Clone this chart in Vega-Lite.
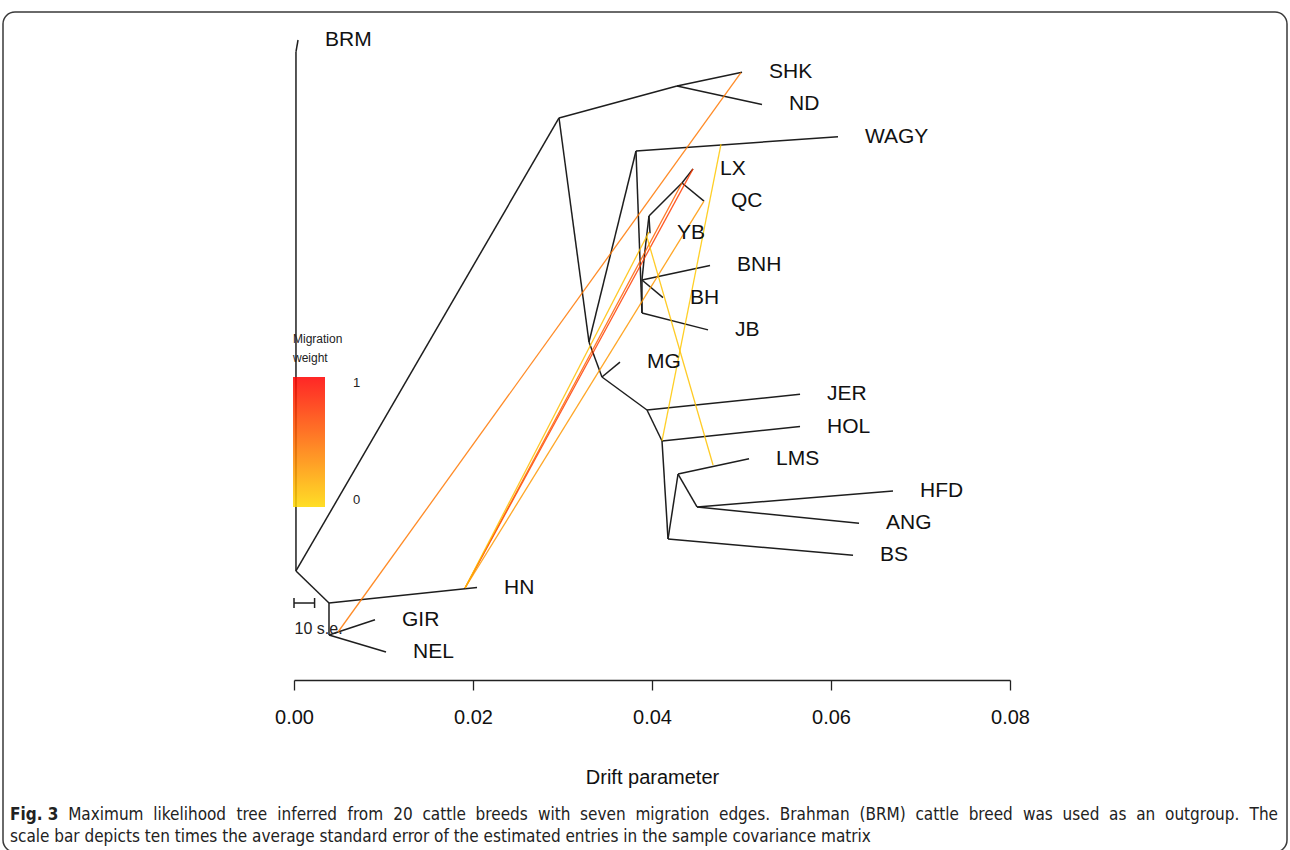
{
  "$schema": "https://vega.github.io/schema/vega-lite/v6.json",
  "width": 1284,
  "height": 840,
  "autosize": {"type": "none"},
  "padding": {"left": 3, "top": 12, "right": 3, "bottom": -2},
  "background": "white",
  "config": {
    "view": {"stroke": "#3a3a3a", "strokeWidth": 1.5, "cornerRadius": 12},
    "font": "Liberation Sans",
    "text": {"font": "DejaVu Sans Condensed, Liberation Sans", "fontSize": 17, "color": "#222", "align": "left", "baseline": "middle"}
  },
  "datasets": {
    "leaves": [
      {"name": "BRM", "x": 0.00045, "y": 20},
      {"name": "SHK", "x": 0.05006, "y": 19},
      {"name": "ND", "x": 0.05229, "y": 18},
      {"name": "WAGY", "x": 0.06078, "y": 17},
      {"name": "LX", "x": 0.04458, "y": 16},
      {"name": "QC", "x": 0.04581, "y": 15},
      {"name": "YB", "x": 0.03978, "y": 14},
      {"name": "BNH", "x": 0.04648, "y": 13},
      {"name": "BH", "x": 0.04123, "y": 12},
      {"name": "JB", "x": 0.04626, "y": 11},
      {"name": "MG", "x": 0.03642, "y": 10},
      {"name": "JER", "x": 0.05654, "y": 9},
      {"name": "HOL", "x": 0.05654, "y": 8},
      {"name": "LMS", "x": 0.05084, "y": 7},
      {"name": "HFD", "x": 0.06693, "y": 6},
      {"name": "ANG", "x": 0.06313, "y": 5},
      {"name": "BS", "x": 0.06246, "y": 4},
      {"name": "HN", "x": 0.02045, "y": 3},
      {"name": "GIR", "x": 0.00905, "y": 2},
      {"name": "NEL", "x": 0.01028, "y": 1}
    ],
    "edges": [
      {"x": 0.00022, "y": 3.515, "x2": 0.00022, "y2": 19.63},
      {"x": 0.00022, "y": 19.63, "x2": 0.00045, "y2": 20},
      {"x": 0.00022, "y": 3.515, "x2": 0.02961, "y2": 17.579},
      {"x": 0.00022, "y": 3.515, "x2": 0.00391, "y2": 2.521},
      {"x": 0.00391, "y": 2.521, "x2": 0.02045, "y2": 3},
      {"x": 0.00391, "y": 2.521, "x2": 0.00391, "y2": 1.528},
      {"x": 0.00391, "y": 1.528, "x2": 0.00905, "y2": 2},
      {"x": 0.00391, "y": 1.528, "x2": 0.01028, "y2": 1},
      {"x": 0.02961, "y": 17.579, "x2": 0.04279, "y2": 18.572},
      {"x": 0.04279, "y": 18.572, "x2": 0.05006, "y2": 19},
      {"x": 0.04279, "y": 18.572, "x2": 0.05229, "y2": 18},
      {"x": 0.02961, "y": 17.579, "x2": 0.03296, "y2": 10.624},
      {"x": 0.03296, "y": 10.624, "x2": 0.03821, "y2": 16.554},
      {"x": 0.03821, "y": 16.554, "x2": 0.06078, "y2": 17},
      {"x": 0.03821, "y": 16.554, "x2": 0.03888, "y2": 11.525},
      {"x": 0.03888, "y": 11.525, "x2": 0.04626, "y2": 11},
      {"x": 0.03888, "y": 11.525, "x2": 0.03888, "y2": 12.549},
      {"x": 0.03888, "y": 12.549, "x2": 0.04648, "y2": 13},
      {"x": 0.03888, "y": 12.549, "x2": 0.04123, "y2": 12},
      {"x": 0.03888, "y": 12.549, "x2": 0.03922, "y2": 13.481},
      {"x": 0.03922, "y": 13.481, "x2": 0.03966, "y2": 14.536},
      {"x": 0.03966, "y": 14.536, "x2": 0.03978, "y2": 14},
      {"x": 0.03966, "y": 14.536, "x2": 0.04335, "y2": 15.561},
      {"x": 0.04335, "y": 15.561, "x2": 0.04458, "y2": 16},
      {"x": 0.04335, "y": 15.561, "x2": 0.04581, "y2": 15},
      {"x": 0.03296, "y": 10.624, "x2": 0.03441, "y2": 9.538},
      {"x": 0.03441, "y": 9.538, "x2": 0.03642, "y2": 10},
      {"x": 0.03441, "y": 9.538, "x2": 0.03944, "y2": 8.513},
      {"x": 0.03944, "y": 8.513, "x2": 0.05654, "y2": 9},
      {"x": 0.03944, "y": 8.513, "x2": 0.04112, "y2": 7.551},
      {"x": 0.04112, "y": 7.551, "x2": 0.05654, "y2": 8},
      {"x": 0.04112, "y": 7.551, "x2": 0.04179, "y2": 4.508},
      {"x": 0.04179, "y": 4.508, "x2": 0.06246, "y2": 4},
      {"x": 0.04179, "y": 4.508, "x2": 0.04291, "y2": 6.526},
      {"x": 0.04291, "y": 6.526, "x2": 0.05084, "y2": 7},
      {"x": 0.04291, "y": 6.526, "x2": 0.04503, "y2": 5.502},
      {"x": 0.04503, "y": 5.502, "x2": 0.06693, "y2": 6},
      {"x": 0.04503, "y": 5.502, "x2": 0.06313, "y2": 5}
    ],
    "migrations": [
      {"x": 0.00492, "y": 1.621, "x2": 0.04994, "y2": 18.99, "w": 0.45},
      {"x": 0.01911, "y": 2.987, "x2": 0.04458, "y2": 16.0, "w": 0.72},
      {"x": 0.01911, "y": 2.987, "x2": 0.04335, "y2": 15.561, "w": 0.55},
      {"x": 0.01911, "y": 2.987, "x2": 0.04581, "y2": 15.0, "w": 0.3},
      {"x": 0.01911, "y": 2.987, "x2": 0.03966, "y2": 14.04, "w": 0.12},
      {"x": 0.04112, "y": 7.551, "x2": 0.04771, "y2": 16.77, "w": 0.08},
      {"x": 0.04682, "y": 6.806, "x2": 0.03944, "y2": 13.88, "w": 0.1}
    ],
    "scalebar": [
      {"x": 0, "y": 2.521, "x2": 0.0023, "y2": 2.521},
      {"x": 0, "y": 2.366, "x2": 0, "y2": 2.676},
      {"x": 0.0023, "y": 2.366, "x2": 0.0023, "y2": 2.676}
    ],
    "scalelabel": [
      {"label": "10 s.e.", "x": 0.00275, "y": 1.71}
    ],
    "caption": [
      {"part": "caption"}
    ]
  },
  "layer": [
    {
      "data": {"name": "edges"},
      "mark": {"type": "rule", "color": "#1e1e1e", "strokeWidth": 1.5},
      "encoding": {
        "x": {
          "field": "x", "type": "quantitative",
          "scale": {"domain": [0, 0.08], "range": [291, 1007], "zero": false, "nice": false},
          "axis": {
            "values": [0, 0.02, 0.04, 0.06, 0.08],
            "format": ".2f",
            "offset": -172,
            "grid": false,
            "domainColor": "#222",
            "domainWidth": 1.3,
            "tickColor": "#222",
            "tickWidth": 1.3,
            "tickSize": 10,
            "labelFont": "Liberation Sans",
            "labelFontSize": 20,
            "labelColor": "#111",
            "labelPadding": 17,
            "labelFlush": false,
            "title": "Drift parameter",
            "titleFont": "Liberation Sans",
            "titleFontSize": 20,
            "titleFontWeight": "normal",
            "titleColor": "#111",
            "titlePadding": 40
          }
        },
        "y": {
          "field": "y", "type": "quantitative",
          "scale": {"domain": [1, 20], "range": [640, 28], "zero": false, "nice": false},
          "axis": null
        },
        "x2": {"field": "x2"},
        "y2": {"field": "y2"}
      }
    },
    {
      "data": {"name": "migrations"},
      "mark": {"type": "rule", "strokeWidth": 1.3, "opacity": 0.85},
      "encoding": {
        "x": {"field": "x", "type": "quantitative"},
        "y": {"field": "y", "type": "quantitative"},
        "x2": {"field": "x2"},
        "y2": {"field": "y2"},
        "color": {
          "field": "w", "type": "quantitative",
          "scale": {"domain": [0, 1], "range": ["#ffd800", "#ff0000"], "interpolate": "rgb"},
          "legend": {
            "orient": "none",
            "legendX": 290,
            "legendY": 322,
            "direction": "vertical",
            "title": ["Migration", "weight"],
            "titleFont": "Liberation Sans",
            "titleFontSize": 12,
            "titleFontWeight": "normal",
            "titleLineHeight": 19,
            "titleColor": "#222",
            "titlePadding": 12,
            "gradientLength": 130,
            "gradientThickness": 32,
            "gradientStrokeWidth": 0,
            "values": [0, 1],
            "format": "d",
            "labelFont": "Liberation Sans",
            "labelFontSize": 13,
            "labelColor": "#222",
            "labelOffset": 28
          }
        }
      }
    },
    {
      "data": {"name": "scalebar"},
      "mark": {"type": "rule", "color": "#1e1e1e", "strokeWidth": 1.5},
      "encoding": {
        "x": {"field": "x", "type": "quantitative"},
        "y": {"field": "y", "type": "quantitative"},
        "x2": {"field": "x2"},
        "y2": {"field": "y2"}
      }
    },
    {
      "data": {"name": "leaves"},
      "mark": {"type": "text", "align": "left", "baseline": "middle", "dx": 27, "fontSize": 21, "font": "Liberation Sans", "color": "#111"},
      "encoding": {
        "x": {"field": "x", "type": "quantitative"},
        "y": {"field": "y", "type": "quantitative"},
        "text": {"field": "name"}
      }
    },
    {
      "data": {"name": "scalelabel"},
      "mark": {"type": "text", "align": "center", "baseline": "middle", "fontSize": 16, "font": "Liberation Sans", "color": "#222"},
      "encoding": {
        "x": {"field": "x", "type": "quantitative"},
        "y": {"field": "y", "type": "quantitative"},
        "text": {"field": "label"}
      }
    },
    {"data": {"name": "caption"}, "mark": {"type": "text", "fontWeight": "bold"}, "encoding": {"x": {"datum": -0.031732, "type": "quantitative"}, "y": {"datum": -4.0605, "type": "quantitative"}, "text": {"value": "Fig. 3"}}},
    {"data": {"name": "caption"}, "mark": {"type": "text"}, "encoding": {"x": {"datum": -0.025235, "type": "quantitative"}, "y": {"datum": -4.0605, "type": "quantitative"}, "text": {"value": "Maximum"}}},
    {"data": {"name": "caption"}, "mark": {"type": "text"}, "encoding": {"x": {"datum": -0.015721, "type": "quantitative"}, "y": {"datum": -4.0605, "type": "quantitative"}, "text": {"value": "likelihood"}}},
    {"data": {"name": "caption"}, "mark": {"type": "text"}, "encoding": {"x": {"datum": -0.006428, "type": "quantitative"}, "y": {"datum": -4.0605, "type": "quantitative"}, "text": {"value": "tree"}}},
    {"data": {"name": "caption"}, "mark": {"type": "text"}, "encoding": {"x": {"datum": -0.001864, "type": "quantitative"}, "y": {"datum": -4.0605, "type": "quantitative"}, "text": {"value": "inferred"}}},
    {"data": {"name": "caption"}, "mark": {"type": "text"}, "encoding": {"x": {"datum": 0.005980, "type": "quantitative"}, "y": {"datum": -4.0605, "type": "quantitative"}, "text": {"value": "from"}}},
    {"data": {"name": "caption"}, "mark": {"type": "text"}, "encoding": {"x": {"datum": 0.011085, "type": "quantitative"}, "y": {"datum": -4.0605, "type": "quantitative"}, "text": {"value": "20"}}},
    {"data": {"name": "caption"}, "mark": {"type": "text"}, "encoding": {"x": {"datum": 0.014349, "type": "quantitative"}, "y": {"datum": -4.0605, "type": "quantitative"}, "text": {"value": "cattle"}}},
    {"data": {"name": "caption"}, "mark": {"type": "text"}, "encoding": {"x": {"datum": 0.020293, "type": "quantitative"}, "y": {"datum": -4.0605, "type": "quantitative"}, "text": {"value": "breeds"}}},
    {"data": {"name": "caption"}, "mark": {"type": "text"}, "encoding": {"x": {"datum": 0.027250, "type": "quantitative"}, "y": {"datum": -4.0605, "type": "quantitative"}, "text": {"value": "with"}}},
    {"data": {"name": "caption"}, "mark": {"type": "text"}, "encoding": {"x": {"datum": 0.031966, "type": "quantitative"}, "y": {"datum": -4.0605, "type": "quantitative"}, "text": {"value": "seven"}}},
    {"data": {"name": "caption"}, "mark": {"type": "text"}, "encoding": {"x": {"datum": 0.038145, "type": "quantitative"}, "y": {"datum": -4.0605, "type": "quantitative"}, "text": {"value": "migration"}}},
    {"data": {"name": "caption"}, "mark": {"type": "text"}, "encoding": {"x": {"datum": 0.047486, "type": "quantitative"}, "y": {"datum": -4.0605, "type": "quantitative"}, "text": {"value": "edges."}}},
    {"data": {"name": "caption"}, "mark": {"type": "text"}, "encoding": {"x": {"datum": 0.054284, "type": "quantitative"}, "y": {"datum": -4.0605, "type": "quantitative"}, "text": {"value": "Brahman"}}},
    {"data": {"name": "caption"}, "mark": {"type": "text"}, "encoding": {"x": {"datum": 0.063177, "type": "quantitative"}, "y": {"datum": -4.0605, "type": "quantitative"}, "text": {"value": "(BRM)"}}},
    {"data": {"name": "caption"}, "mark": {"type": "text"}, "encoding": {"x": {"datum": 0.069436, "type": "quantitative"}, "y": {"datum": -4.0605, "type": "quantitative"}, "text": {"value": "cattle"}}},
    {"data": {"name": "caption"}, "mark": {"type": "text"}, "encoding": {"x": {"datum": 0.075380, "type": "quantitative"}, "y": {"datum": -4.0605, "type": "quantitative"}, "text": {"value": "breed"}}},
    {"data": {"name": "caption"}, "mark": {"type": "text"}, "encoding": {"x": {"datum": 0.081446, "type": "quantitative"}, "y": {"datum": -4.0605, "type": "quantitative"}, "text": {"value": "was"}}},
    {"data": {"name": "caption"}, "mark": {"type": "text"}, "encoding": {"x": {"datum": 0.085873, "type": "quantitative"}, "y": {"datum": -4.0605, "type": "quantitative"}, "text": {"value": "used"}}},
    {"data": {"name": "caption"}, "mark": {"type": "text"}, "encoding": {"x": {"datum": 0.091074, "type": "quantitative"}, "y": {"datum": -4.0605, "type": "quantitative"}, "text": {"value": "as"}}},
    {"data": {"name": "caption"}, "mark": {"type": "text"}, "encoding": {"x": {"datum": 0.094102, "type": "quantitative"}, "y": {"datum": -4.0605, "type": "quantitative"}, "text": {"value": "an"}}},
    {"data": {"name": "caption"}, "mark": {"type": "text"}, "encoding": {"x": {"datum": 0.097323, "type": "quantitative"}, "y": {"datum": -4.0605, "type": "quantitative"}, "text": {"value": "outgroup."}}},
    {"data": {"name": "caption"}, "mark": {"type": "text", "align": "right"}, "encoding": {"x": {"datum": 0.109944, "type": "quantitative"}, "y": {"datum": -4.0605, "type": "quantitative"}, "text": {"value": "The"}}},
    {"data": {"name": "caption"}, "mark": {"type": "text"}, "encoding": {"x": {"datum": -0.031732, "type": "quantitative"}, "y": {"datum": -4.7436, "type": "quantitative"}, "text": {"value": "scale bar depicts ten times the average standard error of the estimated entries in the sample covariance matrix"}}}
  ]
}
